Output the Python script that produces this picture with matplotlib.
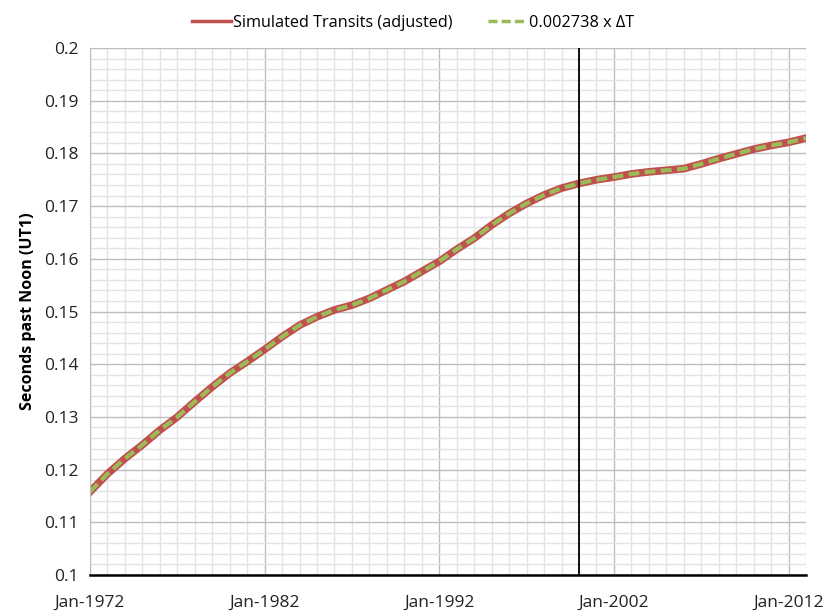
import numpy as np
import pandas as pd
import matplotlib
matplotlib.use("Agg")
import matplotlib.pyplot as plt
import matplotlib.dates as mdates

# values, one point per January
years = list(range(1972, 2014))
transits = [0.1158, 0.1192, 0.1221, 0.1247, 0.1275, 0.1300, 0.1329, 0.1357, 0.1383, 0.1405,
            0.1428, 0.1452, 0.1474, 0.1490, 0.1503, 0.1512, 0.1525, 0.1541, 0.1557, 0.1576,
            0.1595, 0.1618, 0.1639, 0.1664, 0.1686, 0.1705, 0.1721, 0.1734, 0.1743, 0.1750,
            0.1755, 0.1761, 0.1765, 0.1768, 0.1771, 0.1780, 0.1790, 0.1799, 0.1808, 0.1815,
            0.1821, 0.1829]
delta_t = [0.1158, 0.1192, 0.1221, 0.1247, 0.1275, 0.1300, 0.1329, 0.1357, 0.1383, 0.1405,
           0.1428, 0.1452, 0.1474, 0.1490, 0.1503, 0.1512, 0.1525, 0.1541, 0.1557, 0.1576,
           0.1595, 0.1618, 0.1639, 0.1664, 0.1686, 0.1705, 0.1721, 0.1734, 0.1743, 0.1750,
           0.1755, 0.1761, 0.1765, 0.1768, 0.1771, 0.1780, 0.1790, 0.1799, 0.1808, 0.1815,
           0.1821, 0.1829]
tick_years = [1972, 1982, 1992, 2002, 2012]
marker_year = 2000

dates = pd.to_datetime([f"{y}-01-01" for y in years])
tick_dates = pd.to_datetime([f"{y}-01-01" for y in tick_years])

plt.rcParams['font.family'] = ['Open Sans', 'DejaVu Sans']

fig = plt.figure(figsize=(8.26, 6.16), dpi=100)
ax = fig.add_axes([90/826, 1-575/616, (806-90)/826, (575-48)/616])

ax.plot(dates, transits, color='#C0504D', lw=5.5, label='Simulated Transits (adjusted)')
ax.plot(dates, delta_t, color='#9BBB59', lw=3, ls=(0, (2.6, 1.3)), label='0.002738 x \u0394T')
ax.axvline(pd.Timestamp(f"{marker_year}-01-01"), color='black', lw=1.3)

ax.set_xlim(pd.Timestamp("1972-01-01"), pd.Timestamp("2013-01-01"))
ax.set_ylim(0.1, 0.2)
ax.set_xticks(tick_dates)
ax.xaxis.set_minor_locator(mdates.YearLocator(1))
ax.xaxis.set_major_formatter(mdates.DateFormatter('%b-%Y'))
ax.set_yticks(np.arange(0.1, 0.2001, 0.01))
ax.set_yticks(np.arange(0.1, 0.2001, 0.002), minor=True)
ax.yaxis.set_major_formatter(matplotlib.ticker.FuncFormatter(lambda v, p: f"{v:g}"))

ax.grid(which='major', color='#BDBDBD', lw=1)
ax.grid(which='minor', color='#E3E3E3', lw=1)
ax.set_axisbelow(True)
ax.tick_params(which='both', length=0, labelsize=12.5, colors='#222222')
ax.tick_params(axis='x', pad=14)
ax.tick_params(axis='y', pad=8)
for s in ['top', 'right']:
    ax.spines[s].set_visible(False)
ax.spines['left'].set_color('#BDBDBD')
ax.spines['bottom'].set_color('black')
ax.spines['bottom'].set_linewidth(1.8)

ax.set_ylabel('Seconds past Noon (UT1)', fontsize=11.5, fontweight='bold', labelpad=6)

leg = fig.legend(loc='upper center', bbox_to_anchor=(0.5, 1.0), ncol=2, frameon=False,
                 fontsize=11.7, handlelength=2.4, columnspacing=2.2, handletextpad=0.1)
leg.get_lines()[0].set_linewidth(2.5)
leg.get_lines()[1].set_linewidth(2.5)
leg.get_lines()[1].set_linestyle((0, (2.6, 1.2)))

fig.savefig('out.png', dpi=100)
